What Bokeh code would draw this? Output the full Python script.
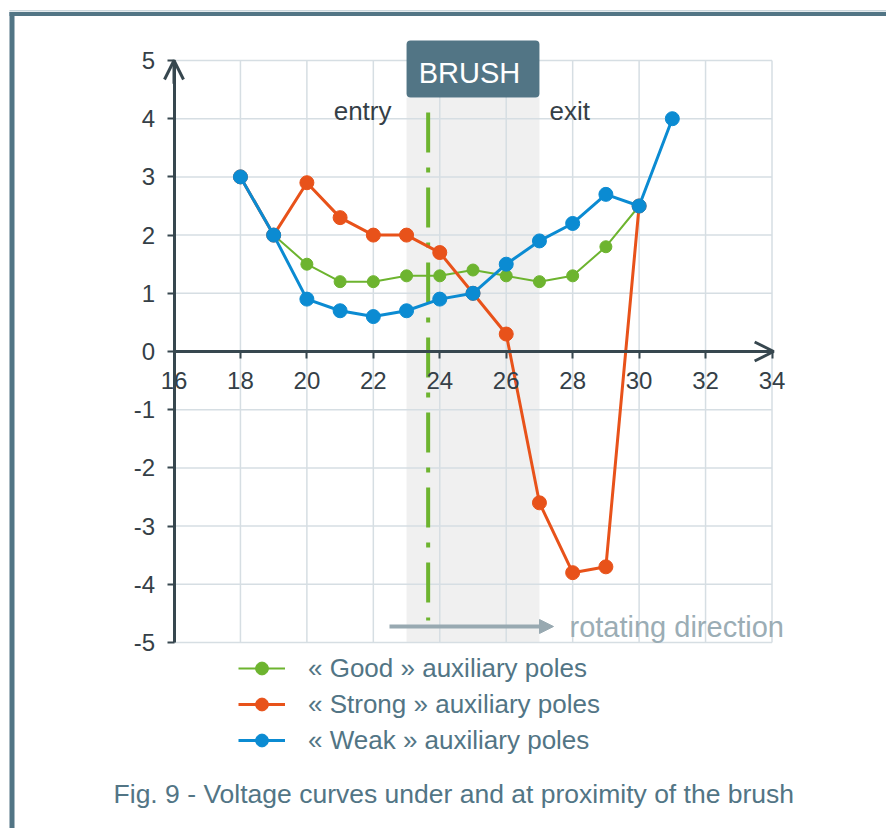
from bokeh.plotting import figure
from bokeh.models import (Range1d, LinearAxis, FixedTicker, Arrow, OpenHead,
                          NormalHead, Label, Legend, LegendItem, BoxAnnotation)
from bokeh.embed import file_html
from bokeh.resources import INLINE

# ---------------- data ----------------
positions = [18, 19, 20, 21, 22, 23, 24, 25, 26, 27, 28, 29, 30]
positions_weak = [18, 19, 20, 21, 22, 23, 24, 25, 26, 27, 28, 29, 30, 31]
good = [3.0, 2.0, 1.5, 1.2, 1.2, 1.3, 1.3, 1.4, 1.3, 1.2, 1.3, 1.8, 2.5]
strong = [3.0, 2.0, 2.9, 2.3, 2.0, 2.0, 1.7, 1.0, 0.3, -2.6, -3.8, -3.7, 2.5]
weak = [3.0, 2.0, 0.9, 0.7, 0.6, 0.7, 0.9, 1.0, 1.5, 1.9, 2.2, 2.7, 2.5, 4.0]
x_ticks = [16, 18, 20, 22, 24, 26, 28, 30, 32, 34]
y_ticks = [-5, -4, -3, -2, -1, 0, 1, 2, 3, 4, 5]
labels = ["« Good » auxiliary poles", "« Strong » auxiliary poles", "« Weak » auxiliary poles"]
brush_start, brush_end = 23, 27
brush_centre = 23.65
caption = "Fig. 9 -  Voltage curves under and at proximity of the brush"

# ---------------- layout helpers ----------------
W, H = 886, 828
X0_PX, X1_PX = 173.5, 771.5   # px of x=16 and x=34
Y_TOP_PX, Y_BOT_PX = 60.0, 642.0  # px of y=5 and y=-5
sxu = (X1_PX - X0_PX) / 18.0
syu = (Y_BOT_PX - Y_TOP_PX) / 10.0


def dx(px):
    return 16 + (px - X0_PX) / sxu


def dy(py):
    return 5 - (py - Y_TOP_PX) / syu


def base(py, fs):
    # compensate the svg baseline placement of labels
    return dy(py - 0.36 * fs)


FONT = "Liberation Sans"
FRAME_C = "#527585"
AXIS_C = "#37474f"
TXT_C = "#353f47"
GRID_C = "#d6dee3"
GREEN = "#6db42f"
ORANGE = "#e8521a"
BLUE = "#0b8bd2"

p = figure(width=W, height=H, output_backend="svg", toolbar_location=None,
           x_axis_type=None, y_axis_type=None,
           x_range=Range1d(dx(0), dx(W)), y_range=Range1d(dy(H), dy(0)),
           min_border=0, outline_line_color=None)
p.background_fill_color = "white"
p.border_fill_color = "white"

# brush shading
p.quad(left=[brush_start], right=[brush_end], bottom=[-5], top=[dy(97)],
       fill_color="#f0f0f0", line_color=None)

# grid
p.segment(x0=x_ticks, y0=[-5] * len(x_ticks), x1=x_ticks, y1=[5] * len(x_ticks),
          line_color=GRID_C, line_width=1.5)
p.segment(x0=[16] * len(y_ticks), y0=y_ticks, x1=[34] * len(y_ticks), y1=y_ticks,
          line_color=GRID_C, line_width=1.5)

# brush centre dash-dot line
p.segment(x0=[brush_centre], y0=[dy(112)], x1=[brush_centre], y1=[dy(620)],
          line_color=GREEN, line_width=4, line_dash="40 15 5 15")

# series
lg = p.line(positions, good, line_color=GREEN, line_width=2)
sg = p.scatter(positions, good, size=12, marker="circle", fill_color=GREEN, line_color=GREEN)
lo = p.line(positions, strong, line_color=ORANGE, line_width=3)
so = p.scatter(positions, strong, size=14, marker="circle", fill_color=ORANGE, line_color=ORANGE)
lb = p.line(positions_weak, weak, line_color=BLUE, line_width=3)
sb = p.scatter(positions_weak, weak, size=14, marker="circle", fill_color=BLUE, line_color=BLUE)

# axes crossing at 0
xaxis = LinearAxis(fixed_location=0, bounds=(16, 34), ticker=FixedTicker(ticks=x_ticks))
yaxis = LinearAxis(fixed_location=16, bounds=(-5, 5), ticker=FixedTicker(ticks=y_ticks))
xaxis.major_label_overrides = {t: str(t) for t in x_ticks}
yaxis.major_label_overrides = {t: str(t) for t in y_ticks}
for ax in (xaxis, yaxis):
    ax.axis_line_color = AXIS_C
    ax.axis_line_width = 3
    ax.major_tick_line_color = AXIS_C
    ax.major_tick_line_width = 2
    ax.major_tick_in = 0
    ax.major_tick_out = 7
    ax.minor_tick_line_color = None
    ax.major_label_text_font = FONT
    ax.major_label_text_font_size = "24px"
    ax.major_label_text_color = TXT_C
xaxis.major_label_standoff = 13
yaxis.major_label_standoff = 12
p.add_layout(xaxis, "below")
p.add_layout(yaxis, "left")

# axis arrows
p.add_layout(Arrow(end=OpenHead(size=19, line_color=AXIS_C, line_width=3),
                   x_start=33.5, y_start=0, x_end=34.05, y_end=0,
                   line_color=AXIS_C, line_width=3))
p.add_layout(Arrow(end=OpenHead(size=19, line_color=AXIS_C, line_width=3),
                   x_start=16, y_start=4.6, x_end=16, y_end=5.0,
                   line_color=AXIS_C, line_width=3))

# BRUSH box
p.add_layout(BoxAnnotation(left=brush_start, right=brush_end, bottom=dy(97), top=dy(40),
                           fill_color=FRAME_C, fill_alpha=1, line_color=None,
                           border_radius=4))
p.add_layout(Label(x=dx(469), y=base(83, 29), text="BRUSH", text_align="center",
                   text_baseline="alphabetic", text_font=FONT, text_font_size="29px",
                   text_color="white"))
p.add_layout(Label(x=dx(391), y=base(120, 26), text="entry", text_align="right",
                   text_baseline="alphabetic", text_font=FONT, text_font_size="26px",
                   text_color=TXT_C))
p.add_layout(Label(x=dx(549), y=base(120, 26), text="exit", text_align="left",
                   text_baseline="alphabetic", text_font=FONT, text_font_size="26px",
                   text_color=TXT_C))

# rotating direction
ROT_C = "#98a9b1"
p.add_layout(Arrow(end=NormalHead(size=14, fill_color=ROT_C, line_color=ROT_C),
                   x_start=dx(389), y_start=dy(626), x_end=dx(553), y_end=dy(626),
                   line_color=ROT_C, line_width=4))
p.add_layout(Label(x=dx(569), y=base(637, 29), text="rotating direction", text_align="left",
                   text_baseline="alphabetic", text_font=FONT, text_font_size="29px",
                   text_color="#9badb5"))

# legend
legend = Legend(items=[LegendItem(label=labels[0], renderers=[lg, sg]),
                       LegendItem(label=labels[1], renderers=[lo, so]),
                       LegendItem(label=labels[2], renderers=[lb, sb])],
                location=(238, 72), orientation="vertical",
                glyph_width=47, glyph_height=32, label_height=32, spacing=4,
                label_standoff=23, padding=0, margin=0,
                background_fill_alpha=0, border_line_alpha=0,
                label_text_font=FONT, label_text_font_size="26px",
                label_text_color=FRAME_C)
p.add_layout(legend)

# caption
p.add_layout(Label(x=dx(457), y=base(803, 26.5), text=caption, text_align="center",
                   text_baseline="alphabetic", text_font=FONT, text_font_size="26.5px",
                   text_color=FRAME_C))

# frame border (left and top)
p.add_layout(BoxAnnotation(left=dx(9), right=dx(14), top=dy(11.5), bottom=dy(H + 20),
                           fill_color=FRAME_C, fill_alpha=1, line_color=None))
p.add_layout(BoxAnnotation(left=dx(9), right=dx(W + 20), top=dy(11.5), bottom=dy(15.5),
                           fill_color=FRAME_C, fill_alpha=1, line_color=None))
p.add_layout(BoxAnnotation(left=dx(9), right=dx(W + 20), top=dy(9.5), bottom=dy(11),
                           fill_color="#c9d5db", fill_alpha=1, line_color=None))

open("out.html", "w").write(file_html(p, INLINE))
